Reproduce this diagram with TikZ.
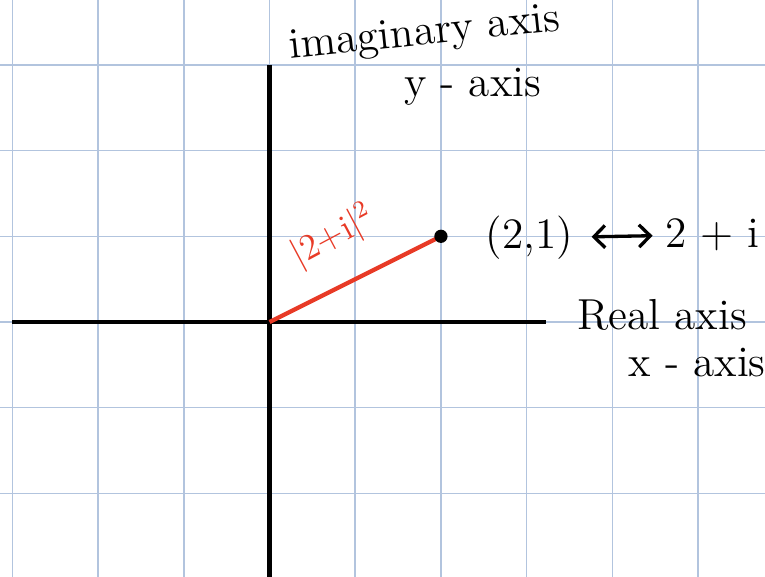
\documentclass[tikz,border=0pt]{standalone}
\usetikzlibrary{arrows.meta}

\definecolor{gridblue}{RGB}{178,196,222}
\definecolor{penred}{RGB}{232,58,38}

\begin{document}
\begin{tikzpicture}[
    gridline/.style={gridblue, line width=0.5pt},
    axis/.style={black, line width=1.4pt},
    modline/.style={penred, line width=1.4pt},
    hand/.style={font=\Large, inner sep=1pt},
]
\useasboundingbox (-3.145,-2.975) rectangle (5.781,3.757);

% grid, one square = one unit
\draw[gridline] (-3.145,-2.975) grid (5.781,3.757);

\coordinate (O) at (0,0);
\coordinate (P) at (2,1);
\coordinate (xl) at (-3.0,0);
\coordinate (xr) at (3.23,0);
\coordinate (yt) at (0,3.0);
\coordinate (yb) at (0,-2.975);

\draw[axis] (xl) -- (xr);
\draw[axis] (yt) -- (yb);
\draw[modline] (O) -- (P);
\fill (P) circle (2.2pt);

\node [hand, rotate=6] (imag) at (1.81, 3.35) {imaginary axis};
\node [hand] (yax) at (2.37, 2.74) {y - axis};
\node [hand] (pt) at (3.03, 0.98) {(2,1)};
\node [hand, anchor=east] (cplx) at (5.76, 1.02) {2 + i};
\node [hand] (real) at (4.58, 0.08) {Real axis};
\node [hand] (xax) at (4.99,-0.47) {x - axis};
\node [hand, penred, font=\large, rotate=28] (mod) at (0.74, 1.0) {|2+i|\textsuperscript{2}};

\draw[line width=1.1pt, shorten <=5pt, shorten >=3pt,
      {Straight Barb}-{Straight Barb}] (pt) -- (cplx);

\end{tikzpicture}
\end{document}
